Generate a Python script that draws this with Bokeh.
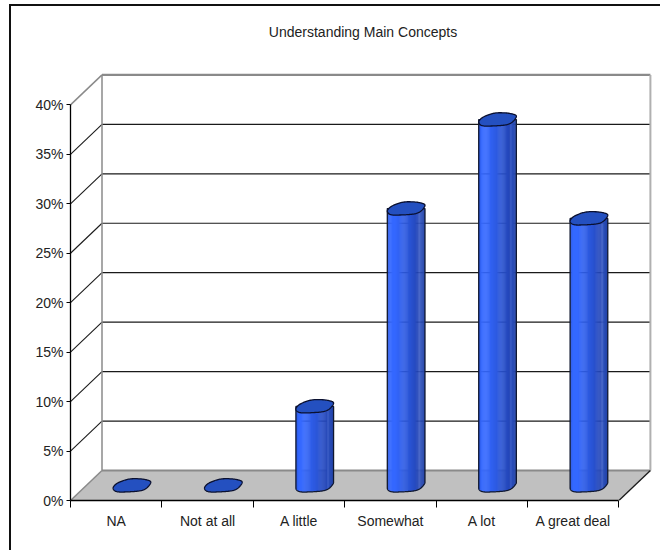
import numpy as np
from bokeh.embed import file_html
from bokeh.models import FixedTicker, LinearAxis, PrintfTickFormatter, Range1d, Title
from bokeh.plotting import figure
from bokeh.resources import INLINE

# Survey responses
categories = ["NA", "Not at all", "A little", "Somewhat", "A lot", "A great deal"]
shares = [0, 0, 8, 28, 37, 27]
y_ticks = [0, 5, 10, 15, 20, 25, 30, 35, 40]
chart_title = "Understanding Main Concepts"

FONT = "Liberation Sans"

# Scale of the drawing area: pixels per category and per percentage point
PX_X = 91.4
PX_Y = 9.89
LEFT, RIGHT, TOP, BOTTOM = 70, 5, 72, 50
WIDTH, HEIGHT = 660, 550
frame_w = WIDTH - LEFT - RIGHT
frame_h = HEIGHT - TOP - BOTTOM

# Oblique depth of the box, in data units
DEPTH_X = 31.5 / PX_X
DEPTH_Y = 30.0 / PX_Y
N = len(categories)
Y_MAX = max(y_ticks)

# The chart's outer border shows only along the top and left of the page
border_css = (
    "linear-gradient(#111,#111) 9px 4px / 651px 2px no-repeat,"
    "linear-gradient(#111,#111) 9px 4px / 2px 546px no-repeat"
)

p = figure(
    width=WIDTH, height=HEIGHT, output_backend="svg", toolbar_location=None,
    x_range=Range1d(0, frame_w / PX_X), y_range=Range1d(0, frame_h / PX_Y),
    x_axis_type=None, y_axis_type=None,
    min_border_left=LEFT, min_border_right=RIGHT, min_border_top=TOP, min_border_bottom=BOTTOM,
    outline_line_color=None, background_fill_color="white", border_fill_color=None,
    styles={"background": border_css},
)
p.grid.visible = False

# Floor
p.patch([0, DEPTH_X, N + DEPTH_X, N], [0, DEPTH_Y, DEPTH_Y, 0],
        fill_color="#c0c0c0", line_color=None)

# Gridlines on the back wall and their continuation down the side wall
inner = [t for t in y_ticks if 0 < t < Y_MAX]
p.segment([DEPTH_X] * len(inner), [t + DEPTH_Y for t in inner],
          [N + DEPTH_X] * len(inner), [t + DEPTH_Y for t in inner],
          line_color="#1a1a1a", line_width=1.2)
p.segment([0] * len(inner), inner, [DEPTH_X] * len(inner), [t + DEPTH_Y for t in inner],
          line_color="#1a1a1a", line_width=1.1)

# Box edges
GRAY = "#8a8a8a"
p.line([DEPTH_X, N + DEPTH_X], [Y_MAX + DEPTH_Y] * 2, line_color=GRAY, line_width=2.4)
p.line([DEPTH_X, N + DEPTH_X], [DEPTH_Y] * 2, line_color=GRAY, line_width=2)
p.line([DEPTH_X, DEPTH_X], [DEPTH_Y, Y_MAX + DEPTH_Y], line_color=GRAY, line_width=1.5)
p.line([N + DEPTH_X, N + DEPTH_X], [DEPTH_Y, Y_MAX + DEPTH_Y], line_color="#b0b0b0", line_width=2)
p.line([0, DEPTH_X], [Y_MAX, Y_MAX + DEPTH_Y], line_color=GRAY, line_width=1.5)
p.line([0, DEPTH_X], [0, DEPTH_Y], line_color=GRAY, line_width=1.5)
p.line([N, N + DEPTH_X], [0, DEPTH_Y], line_color="#1a1a1a", line_width=1.3)

# Cylinders: a rounded, slightly uneven ellipse sheared along the depth direction
A = 17.3 / PX_X
SHEAR_X = 5.6 / PX_X
SHEAR_Y = 6.6 / PX_Y
RIPPLE = 0.3 / PX_Y
THETA0 = np.arctan2(SHEAR_X, A)
STOPS = [0.0, 0.06, 0.2, 0.6, 0.82, 0.86, 0.90, 1.0]
SHADE = [(44, 88, 224), (52, 104, 255), (52, 104, 255), (42, 84, 212),
         (36, 70, 184), (64, 96, 200), (40, 76, 184), (36, 68, 170)]
SHADE = np.array(SHADE, dtype=float)


def shade_hex(t):
    r, g, b = (int(np.interp(t, STOPS, SHADE[:, c])) for c in range(3))
    return f"#{r:02x}{g:02x}{b:02x}"


def rim(th):
    """Outline of a cylinder's end, relative to its centre."""
    c = np.sign(np.cos(th)) * np.abs(np.cos(th)) ** 0.8
    s = np.sign(np.sin(th)) * np.abs(np.sin(th)) ** 0.8
    return A * c + SHEAR_X * s, SHEAR_Y * s + RIPPLE * np.sin(4 * th + 0.6)


for i, v in enumerate(shares):
    cx = i + 0.5 + DEPTH_X / 2
    cy = DEPTH_Y / 2
    th = np.linspace(0, 2 * np.pi, 120)
    rx, ry = rim(th)
    half = rx.max()
    low = np.linspace(THETA0 + np.pi, THETA0 + 2 * np.pi, 60)
    lxr, lyr = rim(low)
    lx = cx + lxr
    ly = cy + lyr

    if v > 0:
        steps = 40
        edges = np.linspace(cx - half, cx + half, steps + 1)
        mids = (edges[:-1] + edges[1:]) / 2
        order = np.argsort(lx)
        bottoms = np.interp(mids, lx[order], ly[order])
        tops = np.full(steps, cy + v)
        rights = edges[1:].copy()
        rights[:-1] += 0.4 / PX_X
        colors = [shade_hex(t) for t in np.linspace(0, 1, steps)]
        p.quad(left=edges[:-1], right=rights, bottom=bottoms, top=tops,
               fill_color=colors, line_color=None)
        p.line(list(lx[order]) + [cx + half, cx - half, lx[order][0]],
               list(ly[order]) + [cy + v, cy + v, ly[order][0]],
               line_color="#101830", line_width=1.3)

    p.patch(cx + rx, cy + v + ry, fill_color="#2450c0", line_color="#0a1030", line_width=1.3)

# Axes
y_axis = LinearAxis(
    ticker=FixedTicker(ticks=y_ticks), formatter=PrintfTickFormatter(format="%d%%"),
    bounds=(0, Y_MAX), major_tick_in=0, major_tick_out=4, minor_tick_out=0, minor_tick_in=0,
    axis_line_color="#000000", major_tick_line_color="#000000", axis_line_width=1.3,
    major_label_text_font=FONT, major_label_text_font_size="14px", major_label_text_color="#222222",
    major_label_standoff=3,
)
p.add_layout(y_axis, "left")

centers = [i + 0.5 for i in range(N)]
x_axis = LinearAxis(
    ticker=FixedTicker(ticks=centers, minor_ticks=list(range(N + 1))),
    major_label_overrides=dict(zip(centers, categories)),
    bounds=(0, N), major_tick_in=0, major_tick_out=0, minor_tick_in=0, minor_tick_out=7,
    axis_line_color="#000000", minor_tick_line_color="#000000", axis_line_width=1.3,
    major_label_text_font=FONT, major_label_text_font_size="14px", major_label_text_color="#222222",
    major_label_standoff=5,
)
p.add_layout(x_axis, "below")

# A blank spacer title holds the chart title clear of the plot box
p.add_layout(Title(text=" ", text_font_size="14px", standoff=13), "above")
p.add_layout(Title(text=chart_title, text_font=FONT, text_font_size="14px",
                   text_font_style="normal", text_color="#222222",
                   align="center", offset=(341 - (LEFT + frame_w / 2)), standoff=4), "above")

open("out.html", "w").write(file_html(p, INLINE))
